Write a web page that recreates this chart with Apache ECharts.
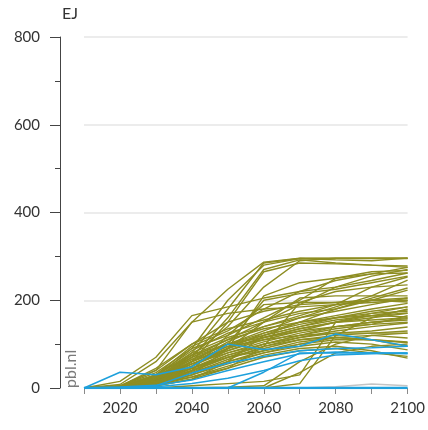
<!DOCTYPE html>
<html>
<head>
<meta charset="utf-8">
<script src="https://cdn.jsdelivr.net/npm/echarts@6/dist/echarts.min.js"></script>
<style>
  html, body { margin: 0; padding: 0; background: #fff; }
  #chart { width: 428px; height: 430px; }
</style>
</head>
<body>
<div id="chart"></div>
<script>
// Years of the scenario projections
const years = [2010, 2020, 2030, 2040, 2050, 2060, 2070, 2080, 2090, 2100];

// Y-axis ticks (EJ)
const yTicks = [0, 200, 400, 600, 800];
// X-axis labelled years
const xLabels = [2020, 2040, 2060, 2080, 2100];

// Bioenergy use per scenario (EJ), main scenario set
const olive01 = [0, 2, 20, 80, 180, 285, 295, 295, 295, 295];
const olive02 = [0, 3, 25, 90, 200, 280, 295, 292, 290, 296];
const olive03 = [0, 2, 15, 70, 160, 270, 292, 285, 280, 275];
const olive04 = [0, 5, 40, 150, 225, 287, 296, 296, 296, 296];
const olive05 = [0, 1, 10, 60, 150, 265, 285, 283, 280, 278];
const olive06 = [0, 2, 18, 75, 140, 230, 290, 296, 296, 296];
const olive07 = [0, 15, 70, 165, 185, 205, 220, 230, 245, 262];
const olive08 = [0, 8, 60, 150, 170, 180, 185, 190, 195, 200];
const olive09 = [0, 3, 30, 95, 130, 180, 220, 245, 260, 275];
const olive10 = [0, 2, 20, 70, 110, 150, 190, 230, 255, 270];
const olive11 = [0, 4, 35, 90, 120, 160, 200, 250, 265, 268];
const olive12 = [0, 3, 28, 80, 115, 140, 165, 190, 230, 253];
const olive13 = [0, 2, 22, 65, 100, 130, 160, 185, 210, 246];
const olive14 = [0, 1, 12, 50, 90, 125, 150, 180, 205, 228];
const olive15 = [0, 3, 30, 85, 125, 150, 170, 180, 200, 223];
const olive16 = [0, 2, 18, 60, 105, 140, 160, 175, 190, 205];
const olive17 = [0, 4, 40, 100, 135, 155, 175, 190, 200, 196];
const olive18 = [0, 3, 25, 75, 110, 135, 150, 165, 180, 193];
const olive19 = [0, 2, 20, 65, 100, 120, 140, 160, 175, 185];
const olive20 = [0, 1, 15, 55, 90, 115, 135, 150, 165, 178];
const olive21 = [0, 2, 20, 60, 95, 120, 140, 155, 165, 171];
const olive22 = [0, 3, 25, 70, 100, 125, 145, 160, 165, 162];
const olive23 = [0, 2, 18, 55, 85, 110, 130, 150, 160, 170];
const olive24 = [0, 1, 12, 45, 80, 105, 125, 140, 150, 155];
const olive25 = [0, 2, 15, 50, 85, 115, 135, 150, 155, 160];
const olive26 = [0, 3, 30, 75, 100, 115, 130, 140, 145, 150];
const olive27 = [0, 1, 10, 40, 70, 100, 120, 135, 145, 165];
const olive28 = [0, 2, 15, 45, 75, 100, 120, 140, 150, 158];
const olive29 = [0, 1, 8, 35, 65, 95, 115, 130, 140, 148];
const olive30 = [0, 2, 20, 55, 80, 100, 115, 125, 130, 139];
const olive31 = [0, 1, 10, 38, 70, 90, 110, 120, 125, 130];
const olive32 = [0, 1, 8, 30, 55, 80, 100, 115, 120, 114];
const olive33 = [0, 2, 15, 45, 70, 85, 100, 110, 110, 103];
const olive34 = [0, 1, 10, 35, 60, 80, 95, 105, 100, 87];
const olive35 = [0, 1, 6, 25, 50, 75, 90, 95, 85, 68];
const olive36 = [0, 1, 5, 20, 45, 70, 85, 90, 80, 72];
const olive37 = [0, 0, 0, 5, 10, 15, 30, 150, 170, 185];
const olive38 = [0, 0, 0, 0, 0, 0, 10, 120, 160, 180];
const olive39 = [0, 0, 0, 0, 2, 5, 60, 100, 120, 125];
const olive40 = [0, 0, 0, 0, 0, 0, 35, 80, 95, 100];
const olive41 = [0, 2, 10, 25, 45, 95, 195, 220, 230, 235];
const olive42 = [0, 3, 20, 50, 100, 200, 215, 225, 240, 255];
const olive43 = [0, 2, 15, 40, 120, 190, 195, 195, 200, 205];
const olive44 = [0, 1, 8, 30, 90, 210, 240, 250, 260, 262];
const olive45 = [0, 4, 45, 100, 150, 175, 190, 195, 200, 200];
const olive46 = [0, 2, 20, 60, 90, 150, 205, 210, 210, 210];
const olive47 = [0, 1, 5, 20, 60, 120, 150, 160, 170, 175];
const olive48 = [0, 3, 22, 60, 95, 110, 120, 125, 125, 125];
const olive49 = [0, 2, 12, 40, 75, 95, 110, 115, 110, 105];
const olive50 = [0, 1, 9, 30, 60, 85, 105, 115, 110, 95];

// Second scenario set
const blue1 = [0, 36, 30, 48, 100, 88, 95, 123, 110, 96];
const blue2 = [0, 0, 5, 34, 57, 72, 85, 90, 92, 95];
const blue3 = [0, 0, 0, 0, 0, 36, 80, 80, 80, 80];
const blue4 = [0, 0, 0, 0, 0, 0, 0, 0, 0, 0];
const blue5 = [0, 2, 6, 18, 40, 60, 78, 82, 80, 78];
const blue6 = [0, 1, 3, 10, 22, 40, 62, 75, 78, 80];

// Remaining scenario
const grey1 = [0, 0, 0, 0, 0, 0, 0, 3, 9, 5];

const oliveSet = [olive01, olive02, olive03, olive04, olive05, olive06, olive07, olive08, olive09, olive10,
  olive11, olive12, olive13, olive14, olive15, olive16, olive17, olive18, olive19, olive20,
  olive21, olive22, olive23, olive24, olive25, olive26, olive27, olive28, olive29, olive30,
  olive31, olive32, olive33, olive34, olive35, olive36, olive37, olive38, olive39, olive40,
  olive41, olive42, olive43, olive44, olive45, olive46, olive47, olive48, olive49, olive50];
const blueSet = [blue1, blue2, blue3, blue5, blue6, blue4];

const OLIVE = '#8d8d22';
const BLUE = '#1ea0dc';
const GREY = '#c4c4c4';
const FONT = 'Lato';

function lineSeries(values, color, width, z) {
  return {
    type: 'line',
    data: years.map((y, i) => [y, values[i]]),
    symbol: 'none',
    silent: true,
    z: z,
    lineStyle: { color: color, width: width },
    emphasis: { disabled: true }
  };
}

const series = [];
series.push(lineSeries(grey1, GREY, 1.5, 2));
oliveSet.forEach(v => series.push(lineSeries(v, OLIVE, 1.4, 3)));
blueSet.forEach((v, i) => series.push(lineSeries(v, BLUE, i === blueSet.length - 1 ? 2.5 : 1.5, 4)));

const chart = echarts.init(document.getElementById('chart'), null, { renderer: 'canvas' });
chart.setOption({
  animation: false,
  backgroundColor: '#fff',
  grid: { left: 84, right: 20, top: 37, bottom: 42, containLabel: false },
  xAxis: {
    type: 'value',
    min: 2010,
    max: 2100,
    interval: 10,
    axisLine: { show: false },
    axisTick: { show: true, length: 6, lineStyle: { color: '#8a8a8a', width: 1 } },
    splitLine: { show: false },
    axisLabel: {
      margin: 13,
      color: '#333',
      fontFamily: FONT,
      fontSize: 15,
      formatter: v => (xLabels.indexOf(v) >= 0 ? String(v) : '')
    }
  },
  yAxis: {
    type: 'value',
    min: yTicks[0],
    max: yTicks[yTicks.length - 1],
    interval: 200,
    offset: 24,
    axisLine: { show: true, lineStyle: { color: '#444', width: 1 } },
    axisTick: { show: true, length: 10, lineStyle: { color: '#444', width: 1 } },
    minorTick: { show: true, splitNumber: 2, length: 5, lineStyle: { color: '#444', width: 1 } },
    splitLine: { show: true, lineStyle: { color: '#e6e6e6', width: 1.5 } },
    axisLabel: {
      margin: 20,
      color: '#333',
      fontFamily: FONT,
      fontSize: 15
    }
  },
  graphic: [
    {
      type: 'text',
      left: 62,
      top: 6,
      style: { text: 'EJ', fill: '#333', font: '16px ' + FONT }
    },
    {
      type: 'text',
      x: 71,
      y: 388,
      rotation: Math.PI / 2,
      style: {
        text: 'pbl.nl',
        fill: '#7a7a7a',
        font: '16px ' + FONT,
        textAlign: 'left',
        textVerticalAlign: 'middle'
      }
    }
  ],
  series: series
});
</script>
</body>
</html>
